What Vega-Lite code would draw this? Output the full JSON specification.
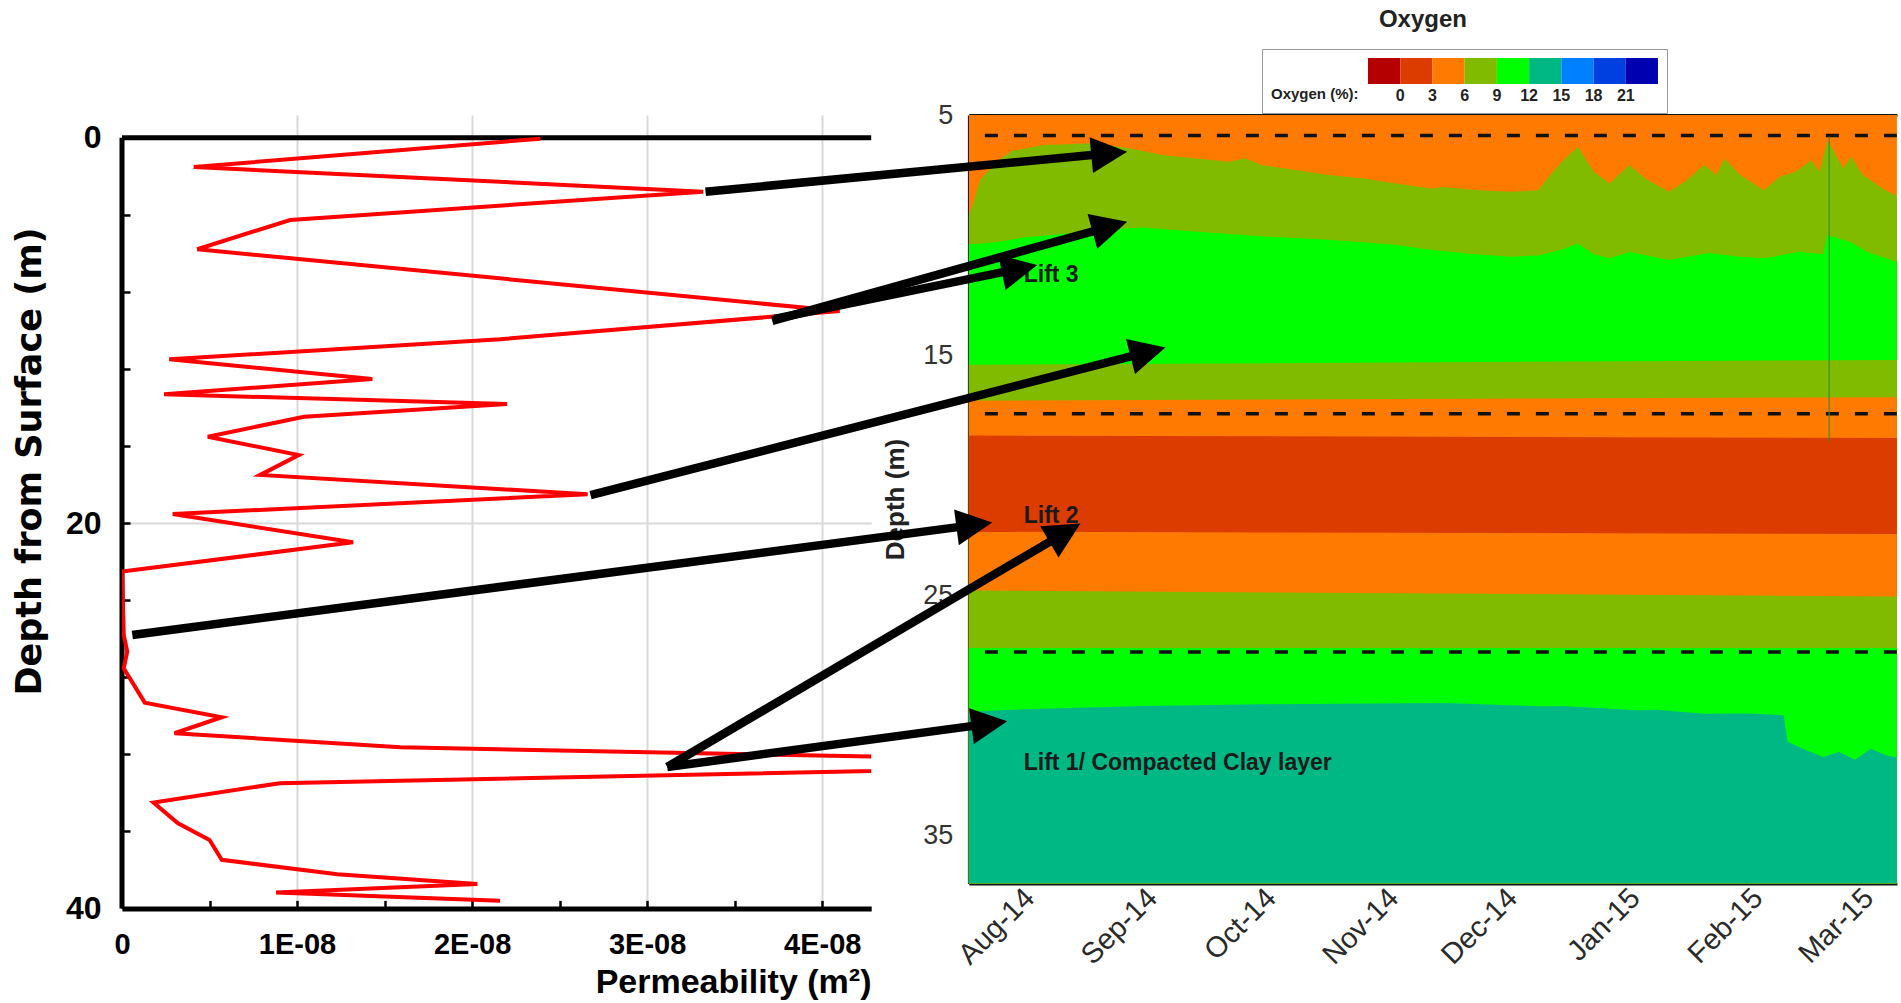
{
  "$schema": "https://vega.github.io/schema/vega-lite/v6.json",
  "background": "white",
  "padding": {"left": 12, "top": 7, "right": 0, "bottom": 0},
  "bounds": "flush",
  "spacing": 96.9,
  "config": {"view": {"stroke": null}, "font": "Liberation Sans"},
  "hconcat": [
    {
      "width": 749.2,
      "height": 793.4,
      "layer": [
        {
          "data": {"values": [{}]},
          "mark": {"type": "rule", "strokeWidth": 5, "color": "black"},
          "encoding": {"x": {"datum": 0}, "y": {"datum": 0}, "y2": {"datum": 40}}
        },
        {
          "data": {"values": [{}]},
          "mark": {"type": "rule", "strokeWidth": 5, "color": "black"},
          "encoding": {"x": {"datum": 0}, "x2": {"datum": 4.28e-8}, "y": {"datum": 0}}
        },
        {
          "data": {"values": [
            {"perm": 2.39e-8, "depth": 0.05},
            {"perm": 0.41e-8, "depth": 1.52},
            {"perm": 3.32e-8, "depth": 2.80},
            {"perm": 0.96e-8, "depth": 4.27},
            {"perm": 0.43e-8, "depth": 5.79},
            {"perm": 4.10e-8, "depth": 9.00},
            {"perm": 2.16e-8, "depth": 10.46},
            {"perm": 0.27e-8, "depth": 11.50},
            {"perm": 1.43e-8, "depth": 12.52},
            {"perm": 0.24e-8, "depth": 13.32},
            {"perm": 2.20e-8, "depth": 13.82},
            {"perm": 1.04e-8, "depth": 14.48},
            {"perm": 0.49e-8, "depth": 15.52},
            {"perm": 1.01e-8, "depth": 16.47},
            {"perm": 0.79e-8, "depth": 17.50},
            {"perm": 2.66e-8, "depth": 18.51},
            {"perm": 0.29e-8, "depth": 19.53},
            {"perm": 1.32e-8, "depth": 21.00},
            {"perm": 0.00e-8, "depth": 22.52},
            {"perm": 0.01e-8, "depth": 25.80},
            {"perm": 0.03e-8, "depth": 26.67},
            {"perm": 0.01e-8, "depth": 27.54},
            {"perm": 0.08e-8, "depth": 28.58},
            {"perm": 0.13e-8, "depth": 29.32},
            {"perm": 0.57e-8, "depth": 30.08},
            {"perm": 0.30e-8, "depth": 30.91},
            {"perm": 1.59e-8, "depth": 31.64},
            {"perm": 6.35e-8, "depth": 32.49},
            {"perm": 0.90e-8, "depth": 33.50},
            {"perm": 0.18e-8, "depth": 34.51},
            {"perm": 0.32e-8, "depth": 35.58},
            {"perm": 0.50e-8, "depth": 36.45},
            {"perm": 0.57e-8, "depth": 37.48},
            {"perm": 1.23e-8, "depth": 38.23},
            {"perm": 2.03e-8, "depth": 38.73},
            {"perm": 0.88e-8, "depth": 39.18},
            {"perm": 2.16e-8, "depth": 39.60}
          ]},
          "mark": {"type": "line", "color": "#ff0000", "strokeWidth": 4, "clip": true},
          "encoding": {
            "x": {
              "field": "perm", "type": "quantitative",
              "scale": {"domain": [0, 4.28e-8], "nice": false, "zero": false},
              "axis": {
                "values": [0, 5e-9, 1e-8, 1.5e-8, 2e-8, 2.5e-8, 3e-8, 3.5e-8, 4e-8],
                "labelExpr": "datum.value === 0 ? '0' : (abs(datum.value * 1e8 - round(datum.value * 1e8)) < 0.01 ? round(datum.value * 1e8) + 'E-08' : '')",
                "labelFontSize": 29, "labelFontWeight": "bold", "labelColor": "black", "labelPadding": 30,
                "labelOverlap": false, "labelFlush": false,
                "tickSize": -8, "tickWidth": 2.5, "tickColor": "black",
                "domainWidth": 5, "domainColor": "black",
                "grid": true, "gridColor": "#d9d9d9", "gridWidth": 2,
                "gridOpacity": {"condition": {"test": "datum.value > 0 && abs(datum.value * 1e8 - round(datum.value * 1e8)) < 0.01", "value": 1}, "value": 0},
                "title": "Permeability (m²)", "titleFontSize": 34, "titleFontWeight": "bold", "titleColor": "black",
                "titleAlign": "right", "titleAnchor": "end", "titleX": 749, "titleY": 74, "titleBaseline": "middle"
              }
            },
            "y": {
              "field": "depth", "type": "quantitative",
              "scale": {"domain": [-1.178, 40], "reverse": true, "nice": false, "zero": false},
              "axis": {
                "values": [0, 2, 4, 6, 8, 10, 12, 14, 16, 18, 20, 22, 24, 26, 28, 30, 32, 34, 36, 38, 40],
                "labelExpr": "datum.value % 10 === 0 ? datum.value : ''",
                "labelFontSize": 32, "labelFontWeight": "bold", "labelColor": "black", "labelPadding": 29,
                "labelOverlap": false, "labelFlush": false,
                "tickSize": -8, "tickWidth": 2.5, "tickColor": "black",
                "domain": false,
                "grid": true, "gridColor": "#d9d9d9", "gridWidth": 2,
                "gridOpacity": {"condition": {"test": "datum.value % 10 === 0 && datum.value > 0 && datum.value < 40", "value": 1}, "value": 0},
                "title": "Depth from Surface (m)", "titleFont": "DejaVu Sans", "titleFontSize": 35, "titleFontWeight": "bold", "titleColor": "black",
                "titleX": -92.6, "titleY": 346, "titleAlign": "center", "titleBaseline": "middle", "titleAngle": -90
              }
            },
            "order": {"field": "depth", "type": "quantitative"}
          }
        }
      ]
    },
    {
      "width": 928,
      "height": 768.4,
      "title": {"text": "Oxygen", "fontSize": 24, "fontWeight": "bold", "color": "#222", "frame": "group", "anchor": "middle", "offset": 69.3, "dx": -10},
      "resolve": {"axis": {"x": "independent"}},
      "layer": [
        {
          "data": {"values": [
            {"band": 1, "o2": 4.5, "t": "2014-07-14", "top": 5},
            {"band": 1, "o2": 4.5, "t": "2015-03-08", "top": 5},
            {"band": 2, "o2": 7.5, "t": "2014-07-14", "top": 9.6},
            {"band": 2, "o2": 7.5, "t": "2014-07-16", "top": 8.8},
            {"band": 2, "o2": 7.5, "t": "2014-07-18", "top": 7.7},
            {"band": 2, "o2": 7.5, "t": "2014-07-22", "top": 6.95},
            {"band": 2, "o2": 7.5, "t": "2014-07-26", "top": 6.5},
            {"band": 2, "o2": 7.5, "t": "2014-08-03", "top": 6.25},
            {"band": 2, "o2": 7.5, "t": "2014-08-16", "top": 6.18},
            {"band": 2, "o2": 7.5, "t": "2014-08-25", "top": 6.4},
            {"band": 2, "o2": 7.5, "t": "2014-09-02", "top": 6.67},
            {"band": 2, "o2": 7.5, "t": "2014-09-10", "top": 6.8},
            {"band": 2, "o2": 7.5, "t": "2014-09-19", "top": 6.95},
            {"band": 2, "o2": 7.5, "t": "2014-09-23", "top": 6.8},
            {"band": 2, "o2": 7.5, "t": "2014-09-27", "top": 7.08},
            {"band": 2, "o2": 7.5, "t": "2014-10-06", "top": 7.3},
            {"band": 2, "o2": 7.5, "t": "2014-10-14", "top": 7.5},
            {"band": 2, "o2": 7.5, "t": "2014-10-23", "top": 7.64},
            {"band": 2, "o2": 7.5, "t": "2014-10-31", "top": 7.85},
            {"band": 2, "o2": 7.5, "t": "2014-11-09", "top": 8.06},
            {"band": 2, "o2": 7.5, "t": "2014-11-12", "top": 8.0},
            {"band": 2, "o2": 7.5, "t": "2014-11-21", "top": 8.13},
            {"band": 2, "o2": 7.5, "t": "2014-11-29", "top": 8.2},
            {"band": 2, "o2": 7.5, "t": "2014-12-06", "top": 8.13},
            {"band": 2, "o2": 7.5, "t": "2014-12-09", "top": 7.5},
            {"band": 2, "o2": 7.5, "t": "2014-12-12", "top": 6.95},
            {"band": 2, "o2": 7.5, "t": "2014-12-16", "top": 6.32},
            {"band": 2, "o2": 7.5, "t": "2014-12-20", "top": 7.36},
            {"band": 2, "o2": 7.5, "t": "2014-12-24", "top": 7.85},
            {"band": 2, "o2": 7.5, "t": "2014-12-29", "top": 7.08},
            {"band": 2, "o2": 7.5, "t": "2015-01-02", "top": 7.64},
            {"band": 2, "o2": 7.5, "t": "2015-01-08", "top": 8.2},
            {"band": 2, "o2": 7.5, "t": "2015-01-12", "top": 7.78},
            {"band": 2, "o2": 7.5, "t": "2015-01-17", "top": 7.08},
            {"band": 2, "o2": 7.5, "t": "2015-01-20", "top": 7.5},
            {"band": 2, "o2": 7.5, "t": "2015-01-22", "top": 6.81},
            {"band": 2, "o2": 7.5, "t": "2015-01-26", "top": 7.5},
            {"band": 2, "o2": 7.5, "t": "2015-02-01", "top": 8.13},
            {"band": 2, "o2": 7.5, "t": "2015-02-05", "top": 7.57},
            {"band": 2, "o2": 7.5, "t": "2015-02-09", "top": 7.36},
            {"band": 2, "o2": 7.5, "t": "2015-02-13", "top": 6.88},
            {"band": 2, "o2": 7.5, "t": "2015-02-15", "top": 7.36},
            {"band": 2, "o2": 7.5, "t": "2015-02-17", "top": 6.1},
            {"band": 2, "o2": 7.5, "t": "2015-02-18", "top": 6.3},
            {"band": 2, "o2": 7.5, "t": "2015-02-21", "top": 7.22},
            {"band": 2, "o2": 7.5, "t": "2015-02-23", "top": 6.74},
            {"band": 2, "o2": 7.5, "t": "2015-02-26", "top": 7.5},
            {"band": 2, "o2": 7.5, "t": "2015-03-03", "top": 8.06},
            {"band": 2, "o2": 7.5, "t": "2015-03-08", "top": 8.5},
            {"band": 3, "o2": 10.5, "t": "2014-07-14", "top": 10.4},
            {"band": 3, "o2": 10.5, "t": "2014-07-22", "top": 10.3},
            {"band": 3, "o2": 10.5, "t": "2014-07-29", "top": 10.1},
            {"band": 3, "o2": 10.5, "t": "2014-08-11", "top": 9.9},
            {"band": 3, "o2": 10.5, "t": "2014-08-21", "top": 9.75},
            {"band": 3, "o2": 10.5, "t": "2014-08-28", "top": 9.68},
            {"band": 3, "o2": 10.5, "t": "2014-09-10", "top": 9.85},
            {"band": 3, "o2": 10.5, "t": "2014-09-27", "top": 10.05},
            {"band": 3, "o2": 10.5, "t": "2014-10-14", "top": 10.2},
            {"band": 3, "o2": 10.5, "t": "2014-10-31", "top": 10.4},
            {"band": 3, "o2": 10.5, "t": "2014-11-08", "top": 10.6},
            {"band": 3, "o2": 10.5, "t": "2014-11-20", "top": 10.8},
            {"band": 3, "o2": 10.5, "t": "2014-11-29", "top": 10.9},
            {"band": 3, "o2": 10.5, "t": "2014-12-06", "top": 10.85},
            {"band": 3, "o2": 10.5, "t": "2014-12-12", "top": 10.6},
            {"band": 3, "o2": 10.5, "t": "2014-12-16", "top": 10.35},
            {"band": 3, "o2": 10.5, "t": "2014-12-20", "top": 10.8},
            {"band": 3, "o2": 10.5, "t": "2014-12-24", "top": 10.97},
            {"band": 3, "o2": 10.5, "t": "2014-12-29", "top": 10.7},
            {"band": 3, "o2": 10.5, "t": "2015-01-08", "top": 11.04},
            {"band": 3, "o2": 10.5, "t": "2015-01-18", "top": 10.75},
            {"band": 3, "o2": 10.5, "t": "2015-01-26", "top": 10.9},
            {"band": 3, "o2": 10.5, "t": "2015-02-01", "top": 10.97},
            {"band": 3, "o2": 10.5, "t": "2015-02-10", "top": 10.7},
            {"band": 3, "o2": 10.5, "t": "2015-02-16", "top": 10.8},
            {"band": 3, "o2": 10.5, "t": "2015-02-17", "top": 10.0},
            {"band": 3, "o2": 10.5, "t": "2015-02-23", "top": 10.3},
            {"band": 3, "o2": 10.5, "t": "2015-02-27", "top": 10.7},
            {"band": 3, "o2": 10.5, "t": "2015-03-08", "top": 11.2},
            {"band": 4, "o2": 7.5, "t": "2014-07-14", "top": 15.4},
            {"band": 4, "o2": 7.5, "t": "2015-03-08", "top": 15.2},
            {"band": 5, "o2": 4.5, "t": "2014-07-14", "top": 16.9},
            {"band": 5, "o2": 4.5, "t": "2015-03-08", "top": 16.75},
            {"band": 6, "o2": 1.5, "t": "2014-07-14", "top": 18.35},
            {"band": 6, "o2": 1.5, "t": "2015-03-08", "top": 18.45},
            {"band": 7, "o2": 4.5, "t": "2014-07-14", "top": 22.35},
            {"band": 7, "o2": 4.5, "t": "2015-03-08", "top": 22.45},
            {"band": 8, "o2": 7.5, "t": "2014-07-14", "top": 24.8},
            {"band": 8, "o2": 7.5, "t": "2015-03-08", "top": 25.05},
            {"band": 9, "o2": 10.5, "t": "2014-07-14", "top": 27.2},
            {"band": 9, "o2": 10.5, "t": "2015-03-08", "top": 27.2},
            {"band": 10, "o2": 13.5, "t": "2014-07-14", "top": 29.86},
            {"band": 10, "o2": 13.5, "t": "2014-07-29", "top": 29.75},
            {"band": 10, "o2": 13.5, "t": "2014-08-28", "top": 29.61},
            {"band": 10, "o2": 13.5, "t": "2014-09-27", "top": 29.54},
            {"band": 10, "o2": 13.5, "t": "2014-11-02", "top": 29.5},
            {"band": 10, "o2": 13.5, "t": "2014-11-12", "top": 29.49},
            {"band": 10, "o2": 13.5, "t": "2014-12-06", "top": 29.62},
            {"band": 10, "o2": 13.5, "t": "2014-12-13", "top": 29.62},
            {"band": 10, "o2": 13.5, "t": "2014-12-31", "top": 29.79},
            {"band": 10, "o2": 13.5, "t": "2015-01-05", "top": 29.77},
            {"band": 10, "o2": 13.5, "t": "2015-01-17", "top": 29.93},
            {"band": 10, "o2": 13.5, "t": "2015-01-28", "top": 29.92},
            {"band": 10, "o2": 13.5, "t": "2015-02-06", "top": 30.0},
            {"band": 10, "o2": 13.5, "t": "2015-02-07", "top": 31.1},
            {"band": 10, "o2": 13.5, "t": "2015-02-11", "top": 31.4},
            {"band": 10, "o2": 13.5, "t": "2015-02-16", "top": 31.74},
            {"band": 10, "o2": 13.5, "t": "2015-02-20", "top": 31.53},
            {"band": 10, "o2": 13.5, "t": "2015-02-24", "top": 31.85},
            {"band": 10, "o2": 13.5, "t": "2015-02-28", "top": 31.39},
            {"band": 10, "o2": 13.5, "t": "2015-03-04", "top": 31.67},
            {"band": 10, "o2": 13.5, "t": "2015-03-08", "top": 31.8}
          ]},
          "mark": {"type": "area", "clip": true, "interpolate": "linear"},
          "encoding": {
            "x": {
              "field": "t", "type": "temporal",
              "scale": {"type": "utc", "domain": [{"year": 2014, "month": 7, "date": 15, "hours": 3, "minutes": 36, "utc": true}, {"year": 2015, "month": 3, "date": 6, "hours": 14, "minutes": 24, "utc": true}]},
              "axis": {
                "orient": "bottom",
                "values": [
                  {"year": 2014, "month": 7, "date": 16, "utc": true}, {"year": 2014, "month": 7, "date": 24, "utc": true},
                  {"year": 2014, "month": 8, "date": 1, "utc": true}, {"year": 2014, "month": 8, "date": 8, "utc": true}, {"year": 2014, "month": 8, "date": 16, "utc": true}, {"year": 2014, "month": 8, "date": 24, "utc": true},
                  {"year": 2014, "month": 9, "date": 1, "utc": true}, {"year": 2014, "month": 9, "date": 8, "utc": true}, {"year": 2014, "month": 9, "date": 16, "utc": true}, {"year": 2014, "month": 9, "date": 24, "utc": true},
                  {"year": 2014, "month": 10, "date": 1, "utc": true}, {"year": 2014, "month": 10, "date": 8, "utc": true}, {"year": 2014, "month": 10, "date": 16, "utc": true}, {"year": 2014, "month": 10, "date": 24, "utc": true},
                  {"year": 2014, "month": 11, "date": 1, "utc": true}, {"year": 2014, "month": 11, "date": 8, "utc": true}, {"year": 2014, "month": 11, "date": 16, "utc": true}, {"year": 2014, "month": 11, "date": 24, "utc": true},
                  {"year": 2014, "month": 12, "date": 1, "utc": true}, {"year": 2014, "month": 12, "date": 8, "utc": true}, {"year": 2014, "month": 12, "date": 16, "utc": true}, {"year": 2014, "month": 12, "date": 24, "utc": true},
                  {"year": 2015, "month": 1, "date": 1, "utc": true}, {"year": 2015, "month": 1, "date": 8, "utc": true}, {"year": 2015, "month": 1, "date": 16, "utc": true}, {"year": 2015, "month": 1, "date": 24, "utc": true},
                  {"year": 2015, "month": 2, "date": 1, "utc": true}, {"year": 2015, "month": 2, "date": 8, "utc": true}, {"year": 2015, "month": 2, "date": 16, "utc": true}, {"year": 2015, "month": 2, "date": 24, "utc": true},
                  {"year": 2015, "month": 3, "date": 1, "utc": true}
                ],
                "labelExpr": "utcdate(datum.value) === 1 ? utcFormat(datum.value, '%b-%y') : ''",
                "labelAngle": -45, "labelAlign": "right", "labelBaseline": "alphabetic",
                "labelFontSize": 29, "labelColor": "#2a2a2a", "labelPadding": 34, "labelOverlap": false, "labelFlush": false,
                "tickSize": {"condition": {"test": "utcdate(datum.value) === 1", "value": -18}, "value": -8},
                "tickWidth": 2, "tickColor": "#111",
                "domainWidth": 3, "domainColor": "#111",
                "grid": false, "title": null
              }
            },
            "y": {
              "field": "top", "type": "quantitative", "stack": null,
              "scale": {"domain": [5, 37], "reverse": true, "nice": false, "zero": false},
              "axis": {
                "values": [5, 6, 7, 8, 9, 10, 11, 12, 13, 14, 15, 16, 17, 18, 19, 20, 21, 22, 23, 24, 25, 26, 27, 28, 29, 30, 31, 32, 33, 34, 35, 36, 37],
                "labelExpr": "datum.value % 5 === 0 ? datum.value : ''",
                "labelFontSize": 27, "labelColor": "#333", "labelPadding": 33, "labelOverlap": false, "labelFlush": false,
                "tickSize": {"condition": {"test": "datum.value % 5 === 0", "value": -17}, "value": -8},
                "tickWidth": 2, "tickColor": "#111",
                "domainWidth": 3, "domainColor": "#111",
                "grid": false,
                "title": "Depth (m)", "titleFontSize": 26, "titleFontWeight": "bold", "titleColor": "#222",
                "titleX": -73.7, "titleY": 384, "titleAlign": "center", "titleBaseline": "middle", "titleAngle": -90
              }
            },
            "y2": {"datum": 37},
            "color": {
              "field": "o2", "type": "quantitative",
              "scale": {"type": "threshold", "domain": [0, 3, 6, 9, 12, 15, 18, 21], "range": ["#b40000", "#dc3c00", "#ff7a00", "#80bb00", "#00ff00", "#00b884", "#0080ff", "#0040e0", "#0000b0"]},
              "legend": {
                "type": "gradient", "direction": "horizontal", "orient": "none", "legendX": 1140, "legendY": -66,
                "gradientLength": 290, "gradientThickness": 26, "gradientStrokeWidth": 0,
                "title": ["", "Oxygen (%):"], "titleOrient": "left", "titleAnchor": "start", "titleBaseline": "top", "titleLineHeight": 29,
                "titleFontSize": 15, "titleFontWeight": "bold", "titleColor": "#222", "titlePadding": 9,
                "labelFontSize": 16, "labelFontWeight": "bold", "labelColor": "#222", "labelOverlap": false, "labelOffset": 4,
                "padding": 9, "strokeColor": "#999", "fillColor": "white"
              }
            },
            "detail": {"field": "band", "type": "nominal"}
          }
        },
        {
          "data": {"values": [{"d": 5.85}, {"d": 17.44}, {"d": 27.36}]},
          "mark": {"type": "rule", "strokeDash": [13, 16], "strokeWidth": 3.5, "color": "#111"},
          "encoding": {"y": {"field": "d", "type": "quantitative"}}
        },
        {
          "data": {"values": [{"t": "2015-02-17T12:00Z", "d1": 5.9, "d2": 18.6}]},
          "mark": {"type": "rule", "strokeWidth": 1.5, "color": "#3d8f2c", "opacity": 0.8},
          "encoding": {
            "x": {"field": "t", "type": "temporal", "axis": null},
            "y": {"field": "d1", "type": "quantitative"},
            "y2": {"field": "d2"}
          }
        },
        {
          "data": {"values": [
            {"t": "2014-07-29", "d": 11.67, "label": "Lift 3"},
            {"t": "2014-07-29", "d": 21.7, "label": "Lift 2"},
            {"t": "2014-07-29", "d": 32.0, "label": "Lift 1/ Compacted Clay layer"}
          ]},
          "mark": {"type": "text", "align": "left", "baseline": "middle", "fontSize": 23, "fontWeight": "bold", "color": "#1a1a1a"},
          "encoding": {
            "x": {
              "field": "t", "type": "temporal",
              "scale": {"type": "utc", "domain": [{"year": 2014, "month": 7, "date": 15, "hours": 3, "minutes": 36, "utc": true}, {"year": 2015, "month": 3, "date": 6, "hours": 14, "minutes": 24, "utc": true}]},
              "axis": {
                "orient": "top",
                "values": [
                  {"year": 2014, "month": 7, "date": 16, "utc": true}, {"year": 2014, "month": 7, "date": 24, "utc": true},
                  {"year": 2014, "month": 8, "date": 1, "utc": true}, {"year": 2014, "month": 8, "date": 8, "utc": true}, {"year": 2014, "month": 8, "date": 16, "utc": true}, {"year": 2014, "month": 8, "date": 24, "utc": true},
                  {"year": 2014, "month": 9, "date": 1, "utc": true}, {"year": 2014, "month": 9, "date": 8, "utc": true}, {"year": 2014, "month": 9, "date": 16, "utc": true}, {"year": 2014, "month": 9, "date": 24, "utc": true},
                  {"year": 2014, "month": 10, "date": 1, "utc": true}, {"year": 2014, "month": 10, "date": 8, "utc": true}, {"year": 2014, "month": 10, "date": 16, "utc": true}, {"year": 2014, "month": 10, "date": 24, "utc": true},
                  {"year": 2014, "month": 11, "date": 1, "utc": true}, {"year": 2014, "month": 11, "date": 8, "utc": true}, {"year": 2014, "month": 11, "date": 16, "utc": true}, {"year": 2014, "month": 11, "date": 24, "utc": true},
                  {"year": 2014, "month": 12, "date": 1, "utc": true}, {"year": 2014, "month": 12, "date": 8, "utc": true}, {"year": 2014, "month": 12, "date": 16, "utc": true}, {"year": 2014, "month": 12, "date": 24, "utc": true},
                  {"year": 2015, "month": 1, "date": 1, "utc": true}, {"year": 2015, "month": 1, "date": 8, "utc": true}, {"year": 2015, "month": 1, "date": 16, "utc": true}, {"year": 2015, "month": 1, "date": 24, "utc": true},
                  {"year": 2015, "month": 2, "date": 1, "utc": true}, {"year": 2015, "month": 2, "date": 8, "utc": true}, {"year": 2015, "month": 2, "date": 16, "utc": true}, {"year": 2015, "month": 2, "date": 24, "utc": true},
                  {"year": 2015, "month": 3, "date": 1, "utc": true}
                ],
                "labels": false,
                "tickSize": {"condition": {"test": "utcdate(datum.value) === 1", "value": -18}, "value": -8},
                "tickWidth": 2, "tickColor": "#111",
                "domainWidth": 3, "domainColor": "#111",
                "grid": false, "title": null
              }
            },
            "y": {"field": "d", "type": "quantitative"},
            "text": {"field": "label"}
          }
        },
        {
          "data": {"values": [
            {"s": "2014-05-09T14:38Z", "sd": 8.196, "t": "2014-08-24T03:22Z", "td": 6.529, "ang": -5.42},
            {"s": "2014-05-26T11:02Z", "sd": 13.571, "t": "2014-08-24T03:22Z", "td": 9.446, "ang": -15.58},
            {"s": "2014-05-26T23:31Z", "sd": 13.488, "t": "2014-08-01T09:42Z", "td": 11.25, "ang": -11.71},
            {"s": "2014-04-10T13:26Z", "sd": 20.833, "t": "2014-09-02T19:26Z", "td": 14.683, "ang": -14.40},
            {"s": "2013-12-15T18:58Z", "sd": 26.654, "t": "2014-07-21T00:58Z", "td": 21.975, "ang": -7.44},
            {"s": "2014-04-29T22:34Z", "sd": 32.154, "t": "2014-08-12T08:10Z", "td": 22.017, "ang": -30.48},
            {"s": "2014-04-29T22:34Z", "sd": 32.154, "t": "2014-07-24T19:55Z", "td": 30.25, "ang": -7.66}
          ]},
          "transform": [
            {"calculate": "time(datum.s) + 0.96 * (time(datum.t) - time(datum.s))", "as": "e"},
            {"calculate": "datum.sd + 0.96 * (datum.td - datum.sd)", "as": "ed"}
          ],
          "layer": [
            {
              "mark": {"type": "rule", "strokeWidth": 8.5, "color": "black", "clip": false, "strokeCap": "butt"},
              "encoding": {
                "x": {"field": "s", "type": "temporal", "axis": null, "scale": {"type": "utc", "domain": [{"year": 2014, "month": 7, "date": 15, "hours": 3, "minutes": 36, "utc": true}, {"year": 2015, "month": 3, "date": 6, "hours": 14, "minutes": 24, "utc": true}]}},
                "x2": {"field": "e"},
                "y": {"field": "sd", "type": "quantitative"},
                "y2": {"field": "ed"}
              }
            },
            {
              "mark": {"type": "point", "shape": "M0,0L-2,-1L-2,1Z", "size": 1300, "filled": true, "color": "black", "opacity": 1, "clip": false},
              "encoding": {
                "x": {"field": "t", "type": "temporal", "axis": null, "scale": {"type": "utc", "domain": [{"year": 2014, "month": 7, "date": 15, "hours": 3, "minutes": 36, "utc": true}, {"year": 2015, "month": 3, "date": 6, "hours": 14, "minutes": 24, "utc": true}]}},
                "y": {"field": "td", "type": "quantitative"},
                "angle": {"field": "ang", "type": "quantitative", "scale": null}
              }
            }
          ]
        }
      ]
    }
  ]
}
